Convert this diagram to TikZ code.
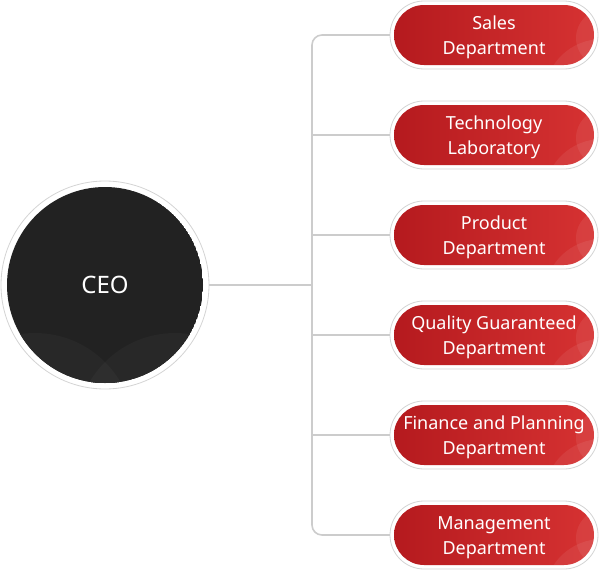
\documentclass[tikz,border=0pt]{standalone}
\usepackage{fontspec}
\setmainfont{Noto Sans}
\usetikzlibrary{calc}
\definecolor{ring}{HTML}{D4D4D4}
\definecolor{dark}{HTML}{222222}
\definecolor{darkarc}{HTML}{282828}
\definecolor{darkmid}{HTML}{2E2E2E}
\definecolor{redL}{HTML}{B51A1E}
\definecolor{redR}{HTML}{D63232}
\definecolor{linegray}{HTML}{CCCCCC}
\newcommand{\deptpill}[3]{%
  \begin{scope}[shift={#2}]
    \draw[ring, fill=white, line width=0.8pt, rounded corners=34pt] (-104,-34) rectangle (104,34);
    \begin{scope}
      \clip[rounded corners=30pt] (-100,-30) rectangle (100,30);
      \shade[left color=redL, right color=redR] (-100,-30) rectangle (100,30);
      \fill[white, opacity=0.07] (111,3) circle[radius=29];
      \fill[white, opacity=0.07] (108,62) circle[radius=58];
    \end{scope}
  \end{scope}
  \node[pillbox] (#1) at #2 {};
  \node[pilllabel] (#1t) at #2 {#3};}
\begin{document}
\begin{tikzpicture}[x=1pt,y=-1pt,
  ceotext/.style={circle, minimum size=208pt, inner sep=0pt, text=white,
    font=\fontsize{24}{28}\selectfont},
  pillbox/.style={rectangle, minimum width=208pt, minimum height=68pt, inner sep=0pt},
  pilllabel/.style={inner sep=0pt, text=white, align=center, yshift=-2.5pt,
    font=\fontsize{18}{25}\selectfont},
  link/.style={draw=linegray, line width=1.6pt}
]
\useasboundingbox (0,0) rectangle (600,570);
% CEO circle
\begin{scope}[shift={(105,285)}]
  \draw[ring, fill=white, line width=0.8pt] (0,0) circle[radius=104];
  \begin{scope}
    \clip (0,0) circle[radius=98];
    \fill[dark] (0,0) circle[radius=98];
    \fill[darkarc] (-70,147) circle[radius=99];
    \fill[darkarc] (70,147) circle[radius=99];
    \begin{scope}
      \clip (-70,147) circle[radius=99];
      \fill[darkmid] (70,147) circle[radius=99];
    \end{scope}
  \end{scope}
\end{scope}
\node[ceotext] (ceo) at (105,285) {CEO};
\deptpill{d1}{(494,35)}{Sales\\Department}
\deptpill{d2}{(494,135)}{Technology\\Laboratory}
\deptpill{d3}{(494,235)}{Product\\Department}
\deptpill{d4}{(494,335)}{Quality Guaranteed\\Department}
\deptpill{d5}{(494,435)}{Finance and Planning\\Department}
\deptpill{d6}{(494,535)}{Management\\Department}
\coordinate (trunk) at (312,285);
\draw[link] (ceo.east) -- (trunk);
\draw[link, rounded corners=10pt] (d1.west) -- (d1.west -| trunk) -- (d6.west -| trunk) -- (d6.west);
\foreach \i in {2,3,4,5} \draw[link] (d\i.west) -- (d\i.west -| trunk);
\end{tikzpicture}
\end{document}
